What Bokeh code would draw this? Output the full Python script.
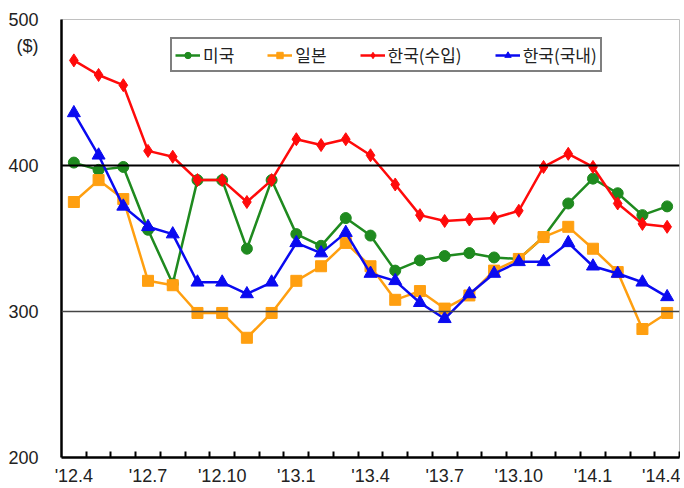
from bokeh.plotting import figure
from bokeh.models import Range1d, FixedTicker, Span, Legend, LegendItem
from bokeh.embed import file_html
from bokeh.resources import INLINE

months = list(range(25))
tick_pos = [0, 3, 6, 9, 12, 15, 18, 21, 24]
tick_labels = ["'12.4", "'12.7", "'12.10", "'13.1", "'13.4", "'13.7", "'13.10", "'14.1", "'14.4"]
y_ticks = [200, 300, 400, 482, 500]
y_labels = ["200", "300", "400", "($)", "500"]
usa = [402, 397, 399, 356, 319, 390, 390, 343, 390, 353, 345, 364, 352, 328, 335, 338, 340, 337, 336, 351, 374, 391, 381, 366, 372]
japan = [375, 390, 377, 321, 318, 299, 299, 282, 299, 321, 331, 347, 331, 308, 314, 302, 311, 328, 336, 351, 358, 343, 327, 288, 299]
kr_import = [472, 462, 455, 410, 406, 390, 390, 375, 390, 418, 414, 418, 407, 387, 366, 362, 363, 364, 369, 399, 408, 399, 374, 360, 358]
kr_domestic = [436, 407, 372, 358, 353, 320, 320, 312, 320, 347, 340, 354, 326, 321, 306, 295, 312, 326, 334, 334, 347, 331, 326, 320, 310]

FONT = "Liberation Sans"

p = figure(width=680, height=488, output_backend="svg", toolbar_location=None,
           x_range=Range1d(-0.5, 24.5), y_range=Range1d(200, 500),
           min_border_left=61, min_border_right=1, min_border_top=19, min_border_bottom=31)
p.outline_line_color = "#c0c0c0"
p.outline_line_width = 1
p.xgrid.visible = False
p.ygrid.visible = False

# axes
p.yaxis.ticker = FixedTicker(ticks=y_ticks)
p.yaxis.major_label_overrides = {t: l for t, l in zip(y_ticks, y_labels)}
p.yaxis.major_tick_in = 0
p.yaxis.major_tick_out = 0
p.yaxis.minor_tick_in = 0
p.yaxis.minor_tick_out = 0
p.yaxis.axis_line_color = "black"
p.yaxis.axis_line_width = 2.5
p.yaxis.major_label_standoff = 23
p.yaxis.major_label_text_font = FONT
p.yaxis.major_label_text_font_size = "18px"
p.yaxis.major_label_text_color = "#222222"

p.xaxis.ticker = FixedTicker(ticks=tick_pos, minor_ticks=[i + 0.5 for i in range(25)])
p.xaxis.major_label_overrides = {t: l for t, l in zip(tick_pos, tick_labels)}
p.xaxis.major_tick_in = 0
p.xaxis.major_tick_out = 0
p.xaxis.minor_tick_in = 6
p.xaxis.minor_tick_out = 0
p.xaxis.minor_tick_line_color = "black"
p.xaxis.minor_tick_line_width = 2
p.xaxis.axis_line_color = "black"
p.xaxis.axis_line_width = 2.5
p.xaxis.major_label_standoff = 8
p.xaxis.major_label_text_font = FONT
p.xaxis.major_label_text_font_size = "18px"
p.xaxis.major_label_text_color = "#222222"

# reference lines
p.add_layout(Span(location=400, dimension="width", line_color="black", line_width=2))
p.add_layout(Span(location=300, dimension="width", line_color="#444444", line_width=1.5))

series = [
    ("미국", usa, "#1f8a1f", "circle", 11),
    ("일본", japan, "#ff9f10", "square", 11),
    ("한국(수입)", kr_import, "#ff0a0a", "diamond", 13),
    ("한국(국내)", kr_domestic, "#0a0af0", "triangle", 13),
]
items = []
for name, vals, col, mk, sz in series:
    r1 = p.line(months, vals, line_color=col, line_width=2.5)
    r2 = p.scatter(months, vals, marker=mk, size=sz, fill_color=col, line_color=col)
    items.append(LegendItem(label=name, renderers=[r1, r2]))

leg = Legend(items=items, orientation="horizontal", location=(109, 385),
             border_line_color="black", border_line_width=2.5,
             label_text_font="Noto Sans CJK KR", label_text_font_size="17px",
             label_text_color="#222222",
             glyph_width=25, glyph_height=16, label_height=16, spacing=33, padding=3,
             label_standoff=3, margin=0, background_fill_alpha=1)
p.add_layout(leg)

open("out.html", "w").write(file_html(p, INLINE))
